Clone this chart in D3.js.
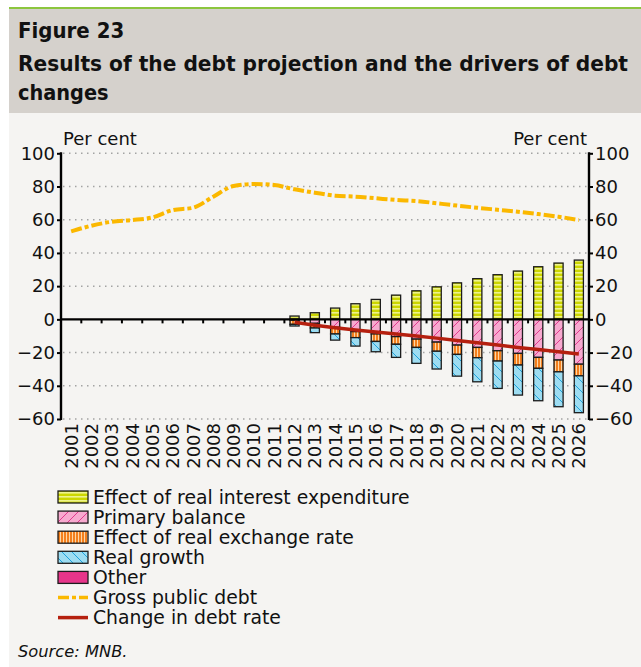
<!DOCTYPE html>
<html>
<head>
<meta charset="utf-8">
<script src="https://cdn.jsdelivr.net/npm/d3@7"></script>
<style>
  html, body { margin: 0; padding: 0; background: #ffffff; }
  svg { display: block; }
  text { font-family: "DejaVu Sans", sans-serif; fill: #111; }
  text.heading { font-family: "DejaVu Sans Condensed", "DejaVu Sans", sans-serif; font-stretch: condensed; font-weight: bold; }
</style>
</head>
<body>
<svg id="chart" width="641" height="667"></svg>
<script>
// Years on the horizontal axis
const years = d3.range(2001, 2027).map(String);

// Gross public debt, per cent of GDP
const grossDebt = [53.0, 56.4, 58.8, 59.8, 61.4, 65.8, 67.2, 73.9, 80.3, 81.5, 80.9, 78.3, 76.3, 74.5,
                   73.9, 72.9, 71.9, 71.3, 69.9, 68.5, 67.2, 66.0, 64.8, 63.4, 61.8, 59.8];

// Projection years for the decomposition bars
const projYears = d3.range(2012, 2027).map(String);

// Drivers of debt changes (cumulative, percentage points)
const realInterest  = [2.0, 4.0, 6.8, 9.4, 12.0, 14.6, 17.2, 19.6, 22.0, 24.5, 26.9, 29.1, 31.7, 33.9, 35.7];
const primaryBal    = [-0.5, -2.4, -4.8, -7.4, -8.8, -10.4, -11.9, -13.7, -15.5, -16.9, -18.9, -20.5, -22.9, -24.5, -27.0];
const exchangeRate  = [-2.5, -2.8, -4.0, -3.6, -4.5, -4.6, -5.0, -5.5, -5.6, -6.2, -6.2, -7.0, -6.6, -7.1, -7.0];
const realGrowth    = [-1.0, -2.8, -3.7, -5.1, -6.2, -7.9, -9.6, -10.7, -13.1, -14.5, -16.5, -18.1, -19.5, -21.0, -22.2];
const otherEffect   = [0, 0, 0, 0, 0, 0, 0, 0, 0, 0, 0, 0, 0, 0, 0];

// Change in debt rate since 2012
const debtChange    = [-1.8, -3.5, -5.0, -6.4, -7.6, -8.8, -10.0, -11.3, -12.7, -14.1, -15.5, -16.9, -18.2, -19.5, -20.8];

// Axis ticks
const yTicks = [-60, -40, -20, 0, 20, 40, 60, 80, 100];

const seriesKeys = ["interest", "primary", "exchange", "growth", "other"];
const seriesNames = {
  interest: "Effect of real interest expenditure",
  primary: "Primary balance",
  exchange: "Effect of real exchange rate",
  growth: "Real growth",
  other: "Other"
};

const svg = d3.select("#chart");

// ---- panel background and heading ----
svg.append("rect").attr("x", 9).attr("y", 8).attr("width", 632).attr("height", 659).attr("fill", "#f5f4f2");
svg.append("rect").attr("x", 9).attr("y", 8).attr("width", 632).attr("height", 105).attr("fill", "#d5d1cc");
svg.append("rect").attr("x", 9).attr("y", 7).attr("width", 632).attr("height", 2).attr("fill", "#8cc63e");

svg.append("text").attr("class", "heading").attr("x", 18).attr("y", 38).attr("font-size", 22).text("Figure 23");
svg.append("text").attr("class", "heading").attr("x", 18).attr("y", 71).attr("font-size", 22)
  .attr("textLength", 610).attr("lengthAdjust", "spacingAndGlyphs")
  .text("Results of the debt projection and the drivers of debt");
svg.append("text").attr("class", "heading").attr("x", 18).attr("y", 100).attr("font-size", 21.5).text("changes");

// ---- patterns ----
const defs = svg.append("defs");
function pattern(id, w, h, bg, draw) {
  const p = defs.append("pattern").attr("id", id).attr("patternUnits", "userSpaceOnUse")
    .attr("width", w).attr("height", h);
  p.append("rect").attr("width", w).attr("height", h).attr("fill", bg);
  draw(p);
}
pattern("pInterest", 6, 4, "#ccd600", p => {
  p.append("rect").attr("x", 0).attr("y", 0).attr("width", 6).attr("height", 1.6).attr("fill", "#eef38c");
});
pattern("pPrimary", 10, 10, "#f7a9cf", p => {
  p.append("path").attr("d", "M0,10 L10,0 M-2,2 L2,-2 M8,12 L12,8").attr("stroke", "#e23a8e").attr("stroke-width", 1);
});
pattern("pExchange", 3, 6, "#f37f1d", p => {
  p.append("rect").attr("x", 0).attr("y", 0).attr("width", 1).attr("height", 6).attr("fill", "#fdd6a6");
});
pattern("pGrowth", 10, 10, "#9ddcf1", p => {
  p.append("path").attr("d", "M0,0 L10,10 M-2,8 L2,12 M8,-2 L12,2").attr("stroke", "#1ea3dc").attr("stroke-width", 1);
});
const fills = {
  interest: "url(#pInterest)",
  primary: "url(#pPrimary)",
  exchange: "url(#pExchange)",
  growth: "url(#pGrowth)",
  other: "#e7358a"
};

// ---- scales ----
const plotLeft = 61, plotRight = 589, plotTop = 153.3, plotBottom = 419;
const x = d3.scaleBand().domain(years).range([plotLeft, plotRight]).padding(0);
const y = d3.scaleLinear().domain([-60, 100]).range([plotBottom, plotTop]);
const barW = x.bandwidth() * 0.45;

const plot = svg.append("g");

// gridlines
plot.selectAll("line.grid").data(yTicks.filter(d => d !== 0)).join("line")
  .attr("x1", plotLeft + 2).attr("x2", plotRight - 2)
  .attr("y1", d => y(d)).attr("y2", d => y(d))
  .attr("stroke", "#a3a3a3").attr("stroke-width", 1.5).attr("stroke-dasharray", "1.5,4.5");

// stacked bars
const rows = projYears.map((yr, i) => ({
  year: yr,
  interest: realInterest[i],
  primary: primaryBal[i],
  exchange: exchangeRate[i],
  growth: realGrowth[i],
  other: otherEffect[i]
}));
const stacked = d3.stack().keys(seriesKeys).offset(d3.stackOffsetDiverging)(rows);

plot.selectAll("g.series").data(stacked).join("g")
  .attr("fill", d => fills[d.key])
  .selectAll("rect").data(d => d.filter(s => s[1] !== s[0])).join("rect")
  .attr("x", d => x(d.data.year) + (x.bandwidth() - barW) / 2)
  .attr("width", barW)
  .attr("y", d => y(Math.max(d[0], d[1])))
  .attr("height", d => Math.abs(y(d[0]) - y(d[1])))
  .attr("stroke", "#1c1c1c").attr("stroke-width", 1.3);

// zero line with category ticks
plot.append("line").attr("x1", plotLeft).attr("x2", plotRight).attr("y1", y(0)).attr("y2", y(0))
  .attr("stroke", "#000").attr("stroke-width", 2.4);
plot.selectAll("line.xtick").data(years.slice(1)).join("line")
  .attr("x1", d => x(d)).attr("x2", d => x(d))
  .attr("y1", y(0)).attr("y2", y(0) + 4)
  .attr("stroke", "#000").attr("stroke-width", 2);

// gross public debt line
const lineGen = d3.line().x((d, i) => x(years[i]) + x.bandwidth() / 2).y(d => y(d)).curve(d3.curveMonotoneX);
plot.append("path").datum(grossDebt).attr("d", lineGen)
  .attr("fill", "none").attr("stroke", "#fbb800").attr("stroke-width", 4)
  .attr("stroke-dasharray", "11,3,4,3");

// change in debt rate line
const lineGen2 = d3.line().x((d, i) => x(projYears[i]) + x.bandwidth() / 2).y(d => y(d));
plot.append("path").datum(debtChange).attr("d", lineGen2)
  .attr("fill", "none").attr("stroke", "#b5200f").attr("stroke-width", 3.5);

// y axes
const yAxisL = d3.axisLeft(y).tickValues(yTicks).tickSize(4).tickPadding(2);
const yAxisR = d3.axisRight(y).tickValues(yTicks).tickSize(4).tickPadding(2);
function styleAxis(g) {
  g.select(".domain").remove();
  g.selectAll(".tick line").attr("stroke", "#000").attr("stroke-width", 2);
  g.selectAll(".tick text").attr("font-size", 18).attr("fill", "#111")
    .style("font-family", "'DejaVu Sans', sans-serif")
    .text(d => d < 0 ? "\u2212" + Math.abs(d) : d);
}
svg.append("g").attr("transform", `translate(${plotLeft},0)`).call(yAxisL).call(styleAxis);
svg.append("line").attr("x1", plotLeft).attr("x2", plotLeft).attr("y1", plotTop - 1).attr("y2", plotBottom + 1)
  .attr("stroke", "#000").attr("stroke-width", 2.4);
svg.append("g").attr("transform", `translate(${plotRight},0)`).call(yAxisR).call(styleAxis);
svg.append("line").attr("x1", plotRight).attr("x2", plotRight).attr("y1", plotTop - 1).attr("y2", plotBottom + 1)
  .attr("stroke", "#000").attr("stroke-width", 2.4);

svg.append("text").attr("x", 63).attr("y", 145).attr("font-size", 18).text("Per cent");
svg.append("text").attr("x", 587).attr("y", 145).attr("font-size", 18).attr("text-anchor", "end").text("Per cent");

// x labels (rotated)
svg.selectAll("text.year").data(years).join("text")
  .attr("font-size", 18)
  .attr("text-anchor", "end")
  .attr("transform", d => `translate(${x(d) + x.bandwidth() / 2 + 6.5},${plotBottom + 4}) rotate(-90)`)
  .text(d => d);

// ---- legend ----
const legend = svg.append("g");
const legendRows = [
  ...seriesKeys.map(k => ({ type: "box", key: k, label: seriesNames[k] })),
  { type: "dash", label: "Gross public debt" },
  { type: "solid", label: "Change in debt rate" }
];
legendRows.forEach((r, i) => {
  const cy = 497 + i * 20.1;
  if (r.type === "box") {
    legend.append("rect").attr("x", 58).attr("y", cy - 6).attr("width", 30).attr("height", 12)
      .attr("fill", fills[r.key]).attr("stroke", "#1c1c1c").attr("stroke-width", 1.3);
  } else if (r.type === "dash") {
    legend.append("line").attr("x1", 58).attr("x2", 88).attr("y1", cy).attr("y2", cy)
      .attr("stroke", "#fbb800").attr("stroke-width", 3.5).attr("stroke-dasharray", "11,3,4,3");
  } else {
    legend.append("line").attr("x1", 58).attr("x2", 88).attr("y1", cy).attr("y2", cy)
      .attr("stroke", "#b5200f").attr("stroke-width", 3.5);
  }
  legend.append("text").attr("x", 93).attr("y", cy + 6.5).attr("font-size", 18.8).text(r.label);
});

svg.append("text").attr("x", 18).attr("y", 657).attr("font-size", 16.3).attr("font-style", "italic").text("Source: MNB.");
</script>
</body>
</html>
